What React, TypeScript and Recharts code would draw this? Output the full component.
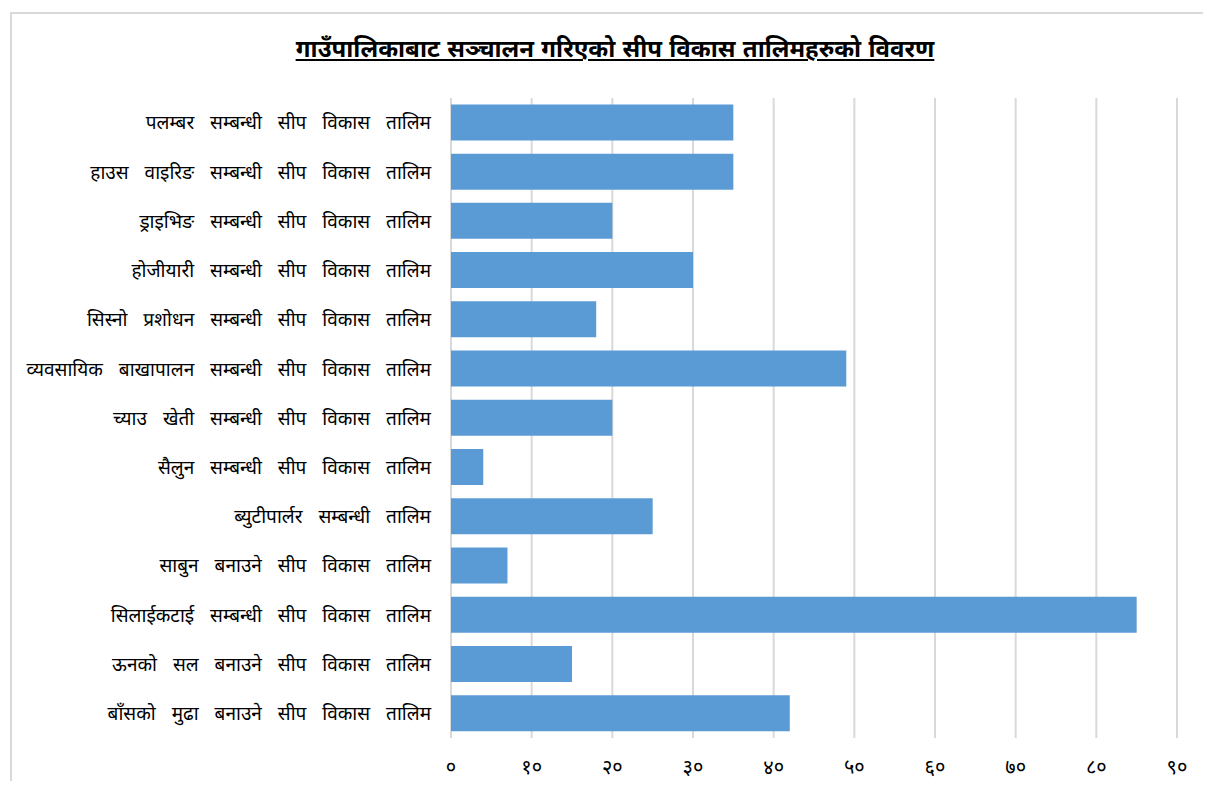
import React from 'react';
import { BarChart, Bar, XAxis, YAxis, CartesianGrid } from 'recharts';

const categories = [
  'पलम्बर सम्बन्धी सीप विकास तालिम',
  'हाउस वाइरिङ सम्बन्धी सीप विकास तालिम',
  'ड्राइभिङ सम्बन्धी सीप विकास तालिम',
  'होजीयारी सम्बन्धी सीप विकास तालिम',
  'सिस्नो प्रशोधन सम्बन्धी सीप विकास तालिम',
  'व्यवसायिक बाखापालन सम्बन्धी सीप विकास तालिम',
  'च्याउ खेती सम्बन्धी सीप विकास तालिम',
  'सैलुन सम्बन्धी सीप विकास तालिम',
  'ब्युटीपार्लर सम्बन्धी  तालिम',
  'साबुन बनाउने सीप विकास तालिम',
  'सिलाईकटाई सम्बन्धी सीप विकास तालिम',
  'ऊनको सल बनाउने सीप विकास तालिम',
  'बाँसको मुढा बनाउने सीप विकास तालिम',
];

const participants = [35, 35, 20, 30, 18, 49, 20, 4, 25, 7, 85, 15, 42];

const xTicks = [0, 10, 20, 30, 40, 50, 60, 70, 80, 90];

const nepaliDigits = ['०', '१', '२', '३', '४', '५', '६', '७', '८', '९'];

const toNepali = (n: number) =>
  String(n)
    .split('')
    .map((d) => nepaliDigits[Number(d)] ?? d)
    .join('');

const data = categories.map((name, i) => ({ name, value: participants[i] }));

const font = '"Noto Sans Devanagari", "Lohit Devanagari", "Noto Serif Devanagari", "Noto Sans", sans-serif';

export default function App() {
  return (
    <div style={{ position: 'relative', margin: -8, width: 1211, height: 789, background: '#fff', overflow: 'hidden', fontFamily: font }}>
      <div
        style={{
          position: 'absolute',
          left: 10,
          top: 12,
          width: 1220,
          height: 800,
          borderLeft: '2px solid #d9d9d9',
          borderTop: '2px solid #d9d9d9',
        }}
      />
      <div
        style={{
          position: 'absolute',
          left: 0,
          top: 35,
          width: 1230,
          textAlign: 'center',
          fontSize: 24,
          fontWeight: 'bold',
          textDecoration: 'underline',
          color: '#000',
          wordSpacing: 1,
        }}
      >
        गाउँपालिकाबाट सञ्चालन गरिएको सीप विकास तालिमहरुको विवरण
      </div>
      <div style={{ position: 'absolute', left: 0, top: 0 }}>
        <BarChart
          width={1211}
          height={789}
          data={data}
          layout="vertical"
          margin={{ top: 98, right: 34, left: 0, bottom: 11 }}
          barCategoryGap="13%"
        >
          <CartesianGrid horizontal={false} stroke="#d9d9d9" strokeWidth={2} />
          <XAxis
            type="number"
            domain={[0, 90]}
            ticks={xTicks}
            tickFormatter={toNepali}
            axisLine={false}
            tickLine={false}
            tickSize={0}
            tickMargin={22}
            height={40}
            tick={{ fontSize: 20, fill: '#000', fontFamily: font }}
          />
          <YAxis
            type="category"
            dataKey="name"
            width={451}
            axisLine={false}
            tickLine={false}
            tickSize={0}
            tickMargin={20}
            interval={0}
            tick={{ fontSize: 19, fill: '#000', fontFamily: font, wordSpacing: 11 }}
          />
          <Bar dataKey="value" fill="#5b9bd5" isAnimationActive={false} />
        </BarChart>
      </div>
    </div>
  );
}
